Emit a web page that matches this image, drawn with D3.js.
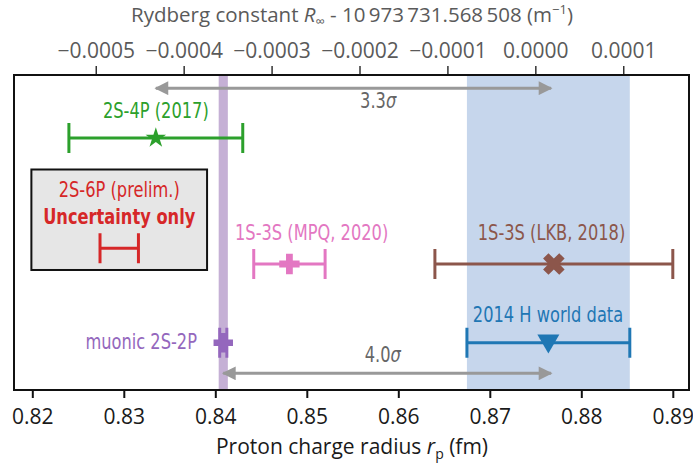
<!DOCTYPE html>
<html><head><meta charset="utf-8">
<script src="https://cdn.jsdelivr.net/npm/d3@7"></script>
<style>
body{margin:0;background:#fff;}
svg{display:block;}
.cond{font-family:"DejaVu Sans Condensed","DejaVu Sans",sans-serif;}
.reg{font-family:"Open Sans",sans-serif;}
</style></head>
<body>
<svg id="c" width="693" height="469"></svg>
<script>
// ---------- data ----------
const rpTicks = [0.82, 0.83, 0.84, 0.85, 0.86, 0.87, 0.88, 0.89];
const rydTicks = [-0.0005, -0.0004, -0.0003, -0.0002, -0.0001, 0.0000, 0.0001];
const names = ["2S-4P (2017)", "1S-3S (MPQ, 2020)", "1S-3S (LKB, 2018)", "2014 H world data", "muonic 2S-2P"];
const rpValues = [0.8335, 0.8481, 0.8770, 0.8764, 0.84087];
const rpErrors = [0.0095, 0.0039, 0.0130, 0.0089, 0.00039];
const rows = [8, 4, 4, 1.5, 1.5];
const colors = ["#2ca02c", "#e377c2", "#8c564b", "#1f77b4", "#9467bd"];
const markers = ["star", "plus", "x", "triangle", "plus"];
// bands
const bandCenters = [0.84087, 0.8764];
const bandHalfWidths = [0.0005, 0.0089];
const bandColors = ["#c5b0d5", "#c6d6ec"];
// preliminary 2S-6P (uncertainty only)
const prelimCenter = 0.8295, prelimError = 0.0021, prelimRow = 4.5;
// discrepancy arrows
const arrowFrom = [0.8335, 0.84087];
const arrowTo = [0.8767, 0.8767];
const arrowRows = [9.58, 0.53];
const arrowLabels = ["3.3", "4.0"];

// ---------- layout ----------
const svg = d3.select("#c");
const L = 14, R = 689, T = 75, B = 390;
const x = d3.scaleLinear().domain([0.818, 0.89177]).range([L, R]);
const xTop = d3.scaleLinear().domain([-0.000593, 0.0001748]).range([L, R]);
const y = d3.scaleLinear().domain([0, 10]).range([B, T]);
const SX = 0.86; // horizontal condensing of annotation text

function condText(px, py, anchor, str, col, bold) {
  const t = svg.append("text").attr("class", "cond")
    .attr("transform", `translate(${px},${py}) scale(${SX},1)`)
    .attr("text-anchor", anchor).attr("font-size", 21).attr("fill", col);
  if (bold) t.attr("font-weight", "bold");
  if (str !== null) t.text(str);
  return t;
}

// bands
bandCenters.forEach((c, i) => {
  svg.append("rect")
    .attr("x", x(c - bandHalfWidths[i])).attr("y", T)
    .attr("width", x(c + bandHalfWidths[i]) - x(c - bandHalfWidths[i]))
    .attr("height", B - T).attr("fill", bandColors[i]);
});

// axes
const bottomAx = svg.append("g").attr("transform", `translate(0,${B})`)
  .call(d3.axisBottom(x).tickValues(rpTicks).tickFormat(d3.format(".2f")).tickSize(8).tickSizeOuter(0));
bottomAx.select(".domain").remove();
bottomAx.selectAll("line").attr("stroke", "#111").attr("stroke-width", 2);
bottomAx.selectAll("text").attr("class", "reg").attr("font-size", 21).attr("fill", "#1a1a1a").attr("dy", "1.1em");

const topAx = svg.append("g").attr("transform", `translate(0,${T})`)
  .call(d3.axisTop(xTop).tickValues(rydTicks).tickFormat(d => d3.format(".4f")(d).replace("-", "\u2212")).tickSize(9).tickSizeOuter(0));
topAx.select(".domain").remove();
topAx.selectAll("line").attr("stroke", "#333").attr("stroke-width", 1.5);
topAx.selectAll("text").attr("class", "reg").attr("font-size", 21).attr("fill", "#5a5a5a").attr("dy", "-0.25em");

// frame
svg.append("rect").attr("x", L).attr("y", T).attr("width", R - L).attr("height", B - T)
  .attr("fill", "none").attr("stroke", "#111").attr("stroke-width", 2);

// axis titles
const tt = svg.append("text").attr("class", "reg").attr("x", 352).attr("y", 22)
  .attr("text-anchor", "middle").attr("font-size", 20.5).attr("fill", "#5a5a5a");
tt.append("tspan").text("Rydberg constant ");
tt.append("tspan").attr("font-style", "italic").text("R");
tt.append("tspan").attr("font-size", 13).attr("dy", 4).text("\u221e");
tt.append("tspan").attr("dy", -4).text(" - 10\u2009973\u2009731.568\u2009508 (m");
tt.append("tspan").attr("font-size", 13).attr("dy", -8).text("\u22121");
tt.append("tspan").attr("dy", 8).text(")");

const xt = svg.append("text").attr("class", "reg").attr("x", 352).attr("y", 454)
  .attr("text-anchor", "middle").attr("font-size", 21).attr("fill", "#1a1a1a");
xt.append("tspan").text("Proton charge radius ");
xt.append("tspan").attr("font-style", "italic").text("r");
xt.append("tspan").attr("font-size", 14).attr("dy", 5).text("p");
xt.append("tspan").attr("dy", -5).text(" (fm)");

// arrows
const defs = svg.append("defs");
defs.append("marker").attr("id", "ah").attr("viewBox", "0 0 10 10").attr("refX", 9).attr("refY", 5)
  .attr("markerWidth", 5).attr("markerHeight", 4.6).attr("markerUnits", "strokeWidth").attr("orient", "auto-start-reverse")
  .append("path").attr("d", "M0,0L10,5L0,10Z").attr("fill", "#999");
arrowFrom.forEach((f, i) => {
  svg.append("line").attr("x1", x(f)).attr("x2", x(arrowTo[i]))
    .attr("y1", y(arrowRows[i])).attr("y2", y(arrowRows[i]))
    .attr("stroke", "#999").attr("stroke-width", 3)
    .attr("marker-start", "url(#ah)").attr("marker-end", "url(#ah)");
});
const sigPos = [[0.8578, 108], [0.8583, 362]];
arrowLabels.forEach((s, i) => {
  const t = condText(x(sigPos[i][0]), sigPos[i][1], "middle", null, "#666", false);
  t.append("tspan").text(s);
  t.append("tspan").attr("font-style", "italic").text("\u03c3");
});

// error bars
const CAP = 15;
function errbar(c, e, r, col) {
  const g = svg.append("g").attr("stroke", col).attr("stroke-width", 3);
  g.append("line").attr("x1", x(c - e)).attr("x2", x(c + e)).attr("y1", y(r)).attr("y2", y(r));
  [c - e, c + e].forEach(v => g.append("line").attr("x1", x(v)).attr("x2", x(v))
    .attr("y1", y(r) - CAP).attr("y2", y(r) + CAP));
}
const symSize = {star: 130, plus: 230, x: 290, triangle: 210};
rpValues.forEach((v, i) => {
  errbar(v, rpErrors[i], rows[i], colors[i]);
  const m = markers[i];
  let sym, rot = 0, dy = 0, size = symSize[m];
  if (m === "star") sym = d3.symbolStar;
  else if (m === "plus") { sym = d3.symbolCross; if (i === 4) size = 210; }
  else if (m === "x") { sym = d3.symbolCross; rot = 45; }
  else { sym = d3.symbolTriangle; rot = 180; dy = -2; }
  svg.append("path").attr("d", d3.symbol().type(sym).size(size)())
    .attr("transform", `translate(${x(v)},${y(rows[i]) + dy}) rotate(${rot})`)
    .attr("fill", colors[i]);
});

// labels
const labelPos = [
  {x: x(0.8335), y: 118, a: "middle"},
  {x: 235, y: 240, a: "start"},
  {x: 551.5, y: 240, a: "middle"},
  {x: 548, y: 322, a: "middle"},
  {x: 197, y: 349, a: "end"}
];
names.forEach((n, i) => condText(labelPos[i].x, labelPos[i].y, labelPos[i].a, n, colors[i], false));

// prelim box
svg.append("rect").attr("x", x(0.8199)).attr("y", y(7.0)).attr("width", x(0.8391) - x(0.8199))
  .attr("height", y(3.81) - y(7.0)).attr("fill", "#e6e6e6").attr("stroke", "#111").attr("stroke-width", 2);
condText(x(0.8295), 197, "middle", "2S-6P (prelim.)", "#d62728", false);
condText(x(0.8295), 224, "middle", "Uncertainty only", "#d62728", true);
errbar(prelimCenter, prelimError, prelimRow, "#d62728");
</script>
</body></html>
